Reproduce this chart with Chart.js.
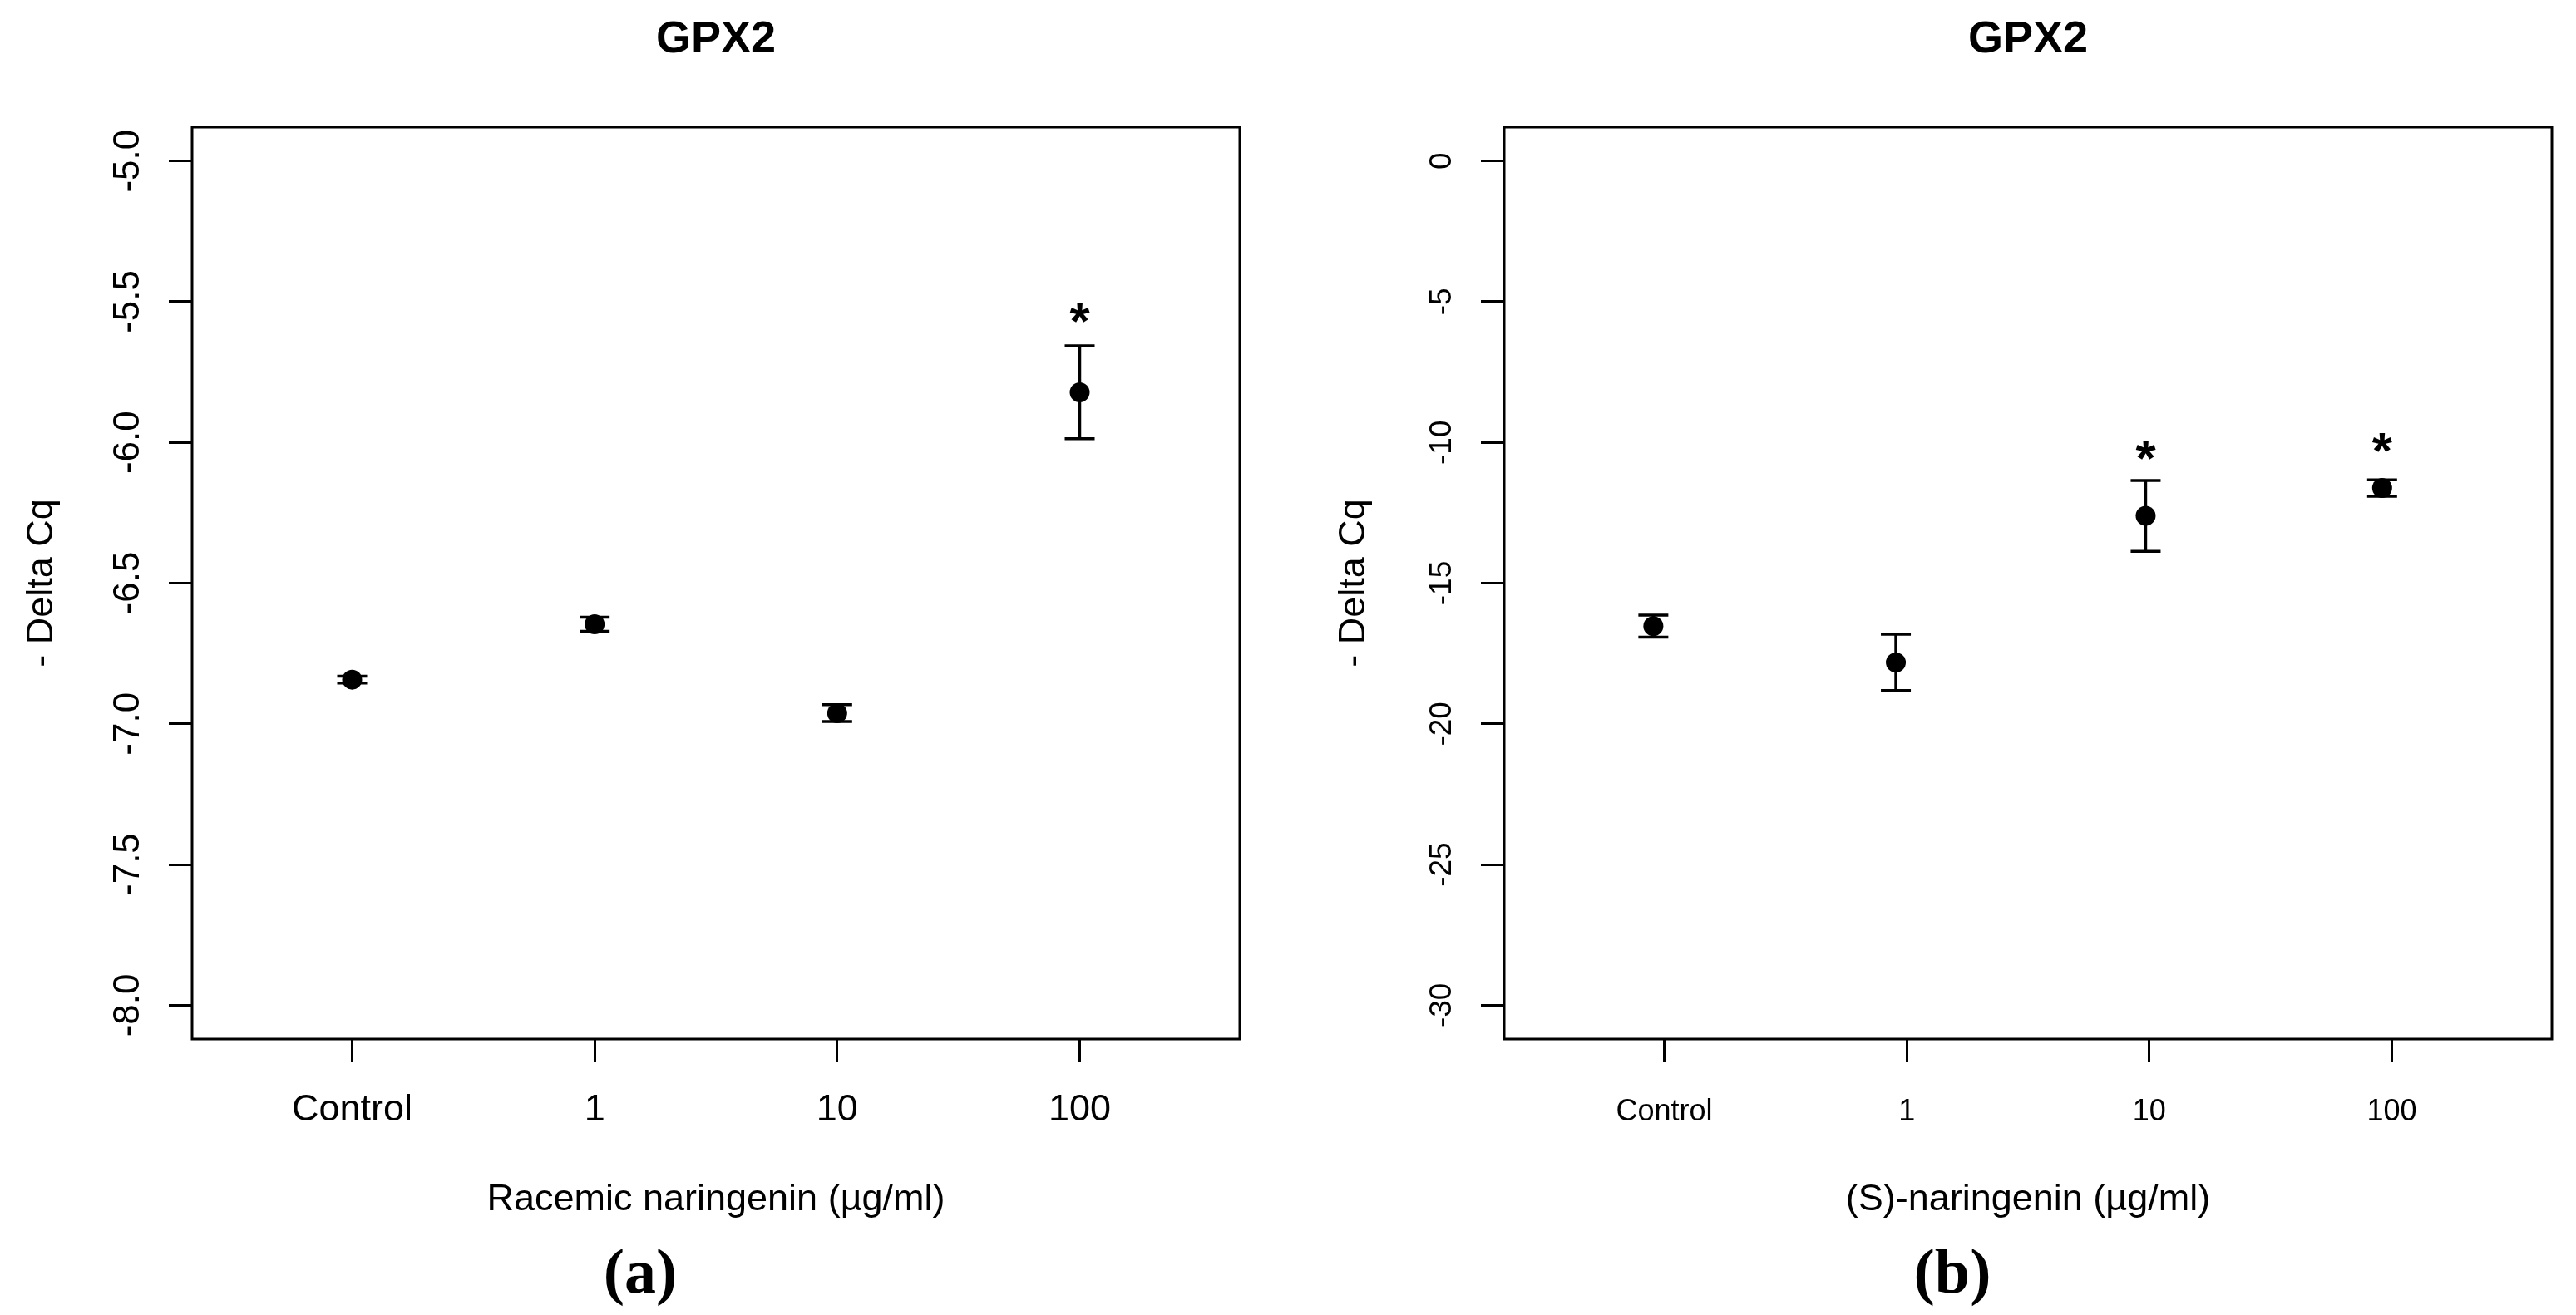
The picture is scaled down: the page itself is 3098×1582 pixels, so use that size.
<!DOCTYPE html>
<html>
<head>
<meta charset="utf-8">
<title>GPX2</title>
<script src="https://cdn.jsdelivr.net/npm/chart.js@4.4.1/dist/chart.umd.min.js"></script>
<style>
  html, body { margin: 0; padding: 0; background: #fff; }
  #wrap { position: relative; width: 3098px; height: 1582px; }
  canvas { position: absolute; top: 0; }
</style>
</head>
<body>
<div id="wrap">
  <canvas id="chartA" width="1549" height="1582" style="left:0"></canvas>
  <canvas id="chartB" width="1549" height="1582" style="left:1549px"></canvas>
</div>
<script>
// categories on the x axis
var categories = ["Control", "1", "10", "100"];
var xTicks = [1, 2, 3, 4];

// (a) racemic naringenin
var racemicX = [1, 2, 3, 4];
var racemicMean = [-6.843, -6.646, -6.962, -5.822];
var racemicErr = [0.012, 0.025, 0.03, 0.165];
var racemicStar = [null, null, null, -5.524];
var racemicTicks = [-8.0, -7.5, -7.0, -6.5, -6.0, -5.5, -5.0];

// (b) (S)-naringenin
var sX = [0.955, 1.955, 2.985, 3.96];
var sMean = [-16.53, -17.82, -12.61, -11.62];
var sErr = [0.39, 1.0, 1.26, 0.29];
var sStar = [null, null, -10.1, -9.85];
var sTicks = [-30, -25, -20, -15, -10, -5, 0];

var SANS = "'Liberation Sans', Arial, sans-serif";

function makePanel(canvasId, cfg) {
  var ctx = document.getElementById(canvasId).getContext("2d");

  var points = cfg.x.map(function (x, i) {
    return { x: x, y: cfg.mean[i] };
  });

  // R style extras: box, rotated labels, error bars, stars
  var extras = {
    id: "extras",
    afterDatasetsDraw: function (chart) {
      var c = chart.ctx;
      var ca = chart.chartArea;
      var xs = chart.scales.x;
      var ys = chart.scales.y;
      c.save();
      c.fillStyle = "#000";
      c.strokeStyle = "#000";

      // error bars
      c.lineWidth = 3.5;
      for (var i = 0; i < cfg.mean.length; i++) {
        var px = xs.getPixelForValue(cfg.x[i]);
        var top = ys.getPixelForValue(cfg.mean[i] + cfg.err[i]);
        var bot = ys.getPixelForValue(cfg.mean[i] - cfg.err[i]);
        c.beginPath();
        c.moveTo(px, top); c.lineTo(px, bot);
        c.moveTo(px - 18, top); c.lineTo(px + 18, top);
        c.moveTo(px - 18, bot); c.lineTo(px + 18, bot);
        c.stroke();
      }

      // significance stars
      c.font = "bold 62px " + SANS;
      c.textAlign = "center";
      c.textBaseline = "alphabetic";
      cfg.star.forEach(function (v, i) {
        if (v === null) return;
        c.fillText("*", xs.getPixelForValue(cfg.x[i]), ys.getPixelForValue(v) + 36);
      });

      // plot box
      c.lineWidth = 3;
      c.strokeRect(ca.left, ca.top, ca.right - ca.left, ca.bottom - ca.top);

      var midX = (ca.left + ca.right) / 2;
      var midY = (ca.top + ca.bottom) / 2;

      // title
      c.font = "bold 54px " + SANS;
      c.fillText("GPX2", midX, 63);

      // y tick labels, rotated like R
      c.font = cfg.yFont + "px " + SANS;
      ys.ticks.forEach(function (t) {
        c.save();
        c.translate(ca.left - 64, ys.getPixelForValue(t.value));
        c.rotate(-Math.PI / 2);
        c.fillText(cfg.yLabel(t.value), 0, 0);
        c.restore();
      });

      // x tick labels
      c.font = cfg.xFont + "px " + SANS;
      xs.ticks.forEach(function (t) {
        c.fillText(categories[xTicks.indexOf(t.value)], xs.getPixelForValue(t.value), 1348);
      });

      // axis titles
      c.font = "45px " + SANS;
      c.fillText(cfg.xTitle, midX, 1456);
      c.save();
      c.translate(ca.left - 168, midY);
      c.rotate(-Math.PI / 2);
      c.fillText("- Delta Cq", 0, 0);
      c.restore();

      // panel letter
      c.font = "bold 76px 'Liberation Serif', 'Times New Roman', serif";
      c.fillText(cfg.letter, midX - 91, 1555);

      c.restore();
    }
  };

  return new Chart(ctx, {
    type: "scatter",
    data: {
      datasets: [
        {
          label: cfg.xTitle,
          data: points,
          backgroundColor: "#000",
          borderColor: "#000",
          pointRadius: 12,
          pointHoverRadius: 12,
          borderWidth: 0
        }
      ]
    },
    options: {
      responsive: false,
      animation: false,
      events: [],
      layout: {
        padding: { left: 0, top: 153, right: cfg.padRight, bottom: 0 }
      },
      plugins: {
        legend: { display: false },
        title: { display: false },
        tooltip: { enabled: false }
      },
      scales: {
        x: {
          type: "linear",
          min: 0.34,
          max: 4.66,
          afterBuildTicks: function (s) {
            s.ticks = xTicks.map(function (v) { return { value: v }; });
          },
          afterFit: function (s) { s.height = 332; },
          ticks: { display: false },
          border: { display: false },
          grid: {
            drawOnChartArea: false,
            drawTicks: true,
            tickLength: 28,
            lineWidth: 3,
            color: "#000"
          }
        },
        y: {
          type: "linear",
          min: cfg.yMin,
          max: cfg.yMax,
          afterBuildTicks: function (s) {
            s.ticks = cfg.yTicks.map(function (v) { return { value: v }; });
          },
          afterFit: function (s) { s.width = cfg.boxLeft; },
          ticks: { display: false },
          border: { display: false },
          grid: {
            drawOnChartArea: false,
            drawTicks: true,
            tickLength: 28,
            lineWidth: 3,
            color: "#000"
          }
        }
      }
    },
    plugins: [extras]
  });
}

makePanel("chartA", {
  x: racemicX, mean: racemicMean, err: racemicErr, star: racemicStar,
  yTicks: racemicTicks, yMin: -8.12, yMax: -4.88,
  yLabel: function (v) { return v.toFixed(1); },
  yFont: 44, xFont: 45,
  boxLeft: 231, padRight: 58,
  xTitle: "Racemic naringenin (\u00b5g/ml)", letter: "(a)"
});

makePanel("chartB", {
  x: sX, mean: sMean, err: sErr, star: sStar,
  yTicks: sTicks, yMin: -31.2, yMax: 1.2,
  yLabel: function (v) { return String(v); },
  yFont: 37, xFont: 36,
  boxLeft: 260, padRight: 29,
  xTitle: "(S)-naringenin (\u00b5g/ml)", letter: "(b)"
});
</script>
</body>
</html>
